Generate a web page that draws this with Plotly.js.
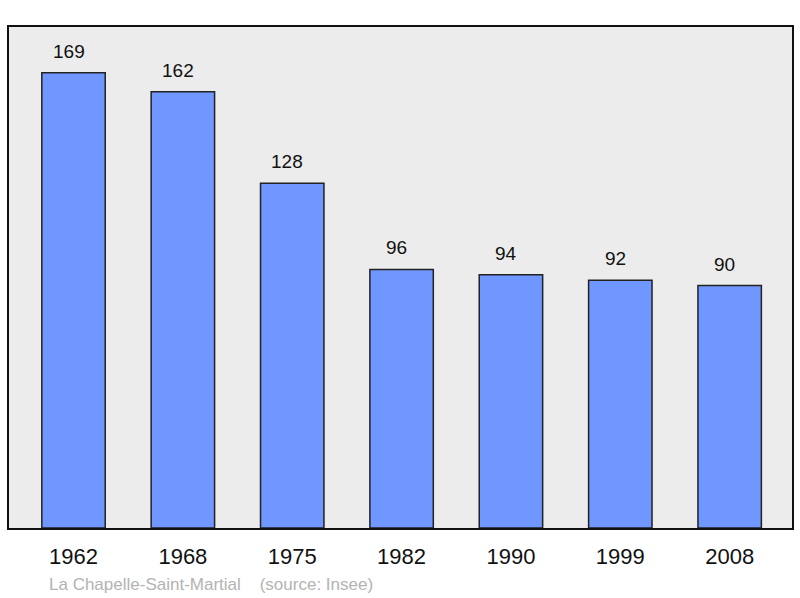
<!DOCTYPE html>
<html>
<head>
<meta charset="utf-8">
<script src="https://cdn.plot.ly/plotly-3.0.1.min.js"></script>
<style>
  html, body { margin: 0; padding: 0; background: #fff; }
  #chart { width: 800px; height: 598px; }
</style>
</head>
<body>
<div id="chart"></div>
<script>
const years = ['1962', '1968', '1975', '1982', '1990', '1999', '2008']
const population = [169, 162, 128, 96, 94, 92, 90]
const footerText = 'La Chapelle-Saint-Martial    (source: Insee)'

const trace = {
  type: 'bar',
  x: years,
  y: population,
  width: 0.58,
  marker: {
    color: '#7096ff',
    line: { color: '#222', width: 1.5 }
  },
  hoverinfo: 'none'
}

// value labels above each bar (category axis -> use the index)
const labels = years.map((yr, i) => ({
  x: i,
  y: population[i],
  text: String(population[i]),
  showarrow: false,
  yanchor: 'bottom',
  yshift: 9,
  xshift: -5,
  font: { family: 'Liberation Sans, Arial, sans-serif', size: 19, color: '#111' }
}))

labels.push({
  xref: 'paper',
  yref: 'paper',
  x: 0.049,
  y: -0.112,
  xanchor: 'left',
  yanchor: 'middle',
  text: footerText.replace(/ /g, '&nbsp;'),
  showarrow: false,
  font: { family: 'Liberation Sans, Arial, sans-serif', size: 17, color: '#b3b3b3' }
})

const layout = {
  width: 800,
  height: 598,
  margin: { l: 9, r: 8, t: 27, b: 70 },
  paper_bgcolor: '#ffffff',
  plot_bgcolor: '#ececec',
  showlegend: false,
  xaxis: {
    type: 'category',
    range: [-0.59, 6.57],
    showline: true,
    mirror: true,
    linecolor: '#111',
    linewidth: 2,
    ticks: 'outside',
    ticklen: 8,
    tickcolor: 'rgba(0,0,0,0)',
    tickfont: { family: 'Liberation Sans, Arial, sans-serif', size: 22, color: '#111' },
    fixedrange: true
  },
  yaxis: {
    range: [0, 186],
    showline: true,
    mirror: true,
    linecolor: '#111',
    linewidth: 2,
    showgrid: false,
    zeroline: false,
    showticklabels: false,
    fixedrange: true
  },
  annotations: labels
}

Plotly.newPlot('chart', [trace], layout, { displayModeBar: false, staticPlot: true })
</script>
</body>
</html>
